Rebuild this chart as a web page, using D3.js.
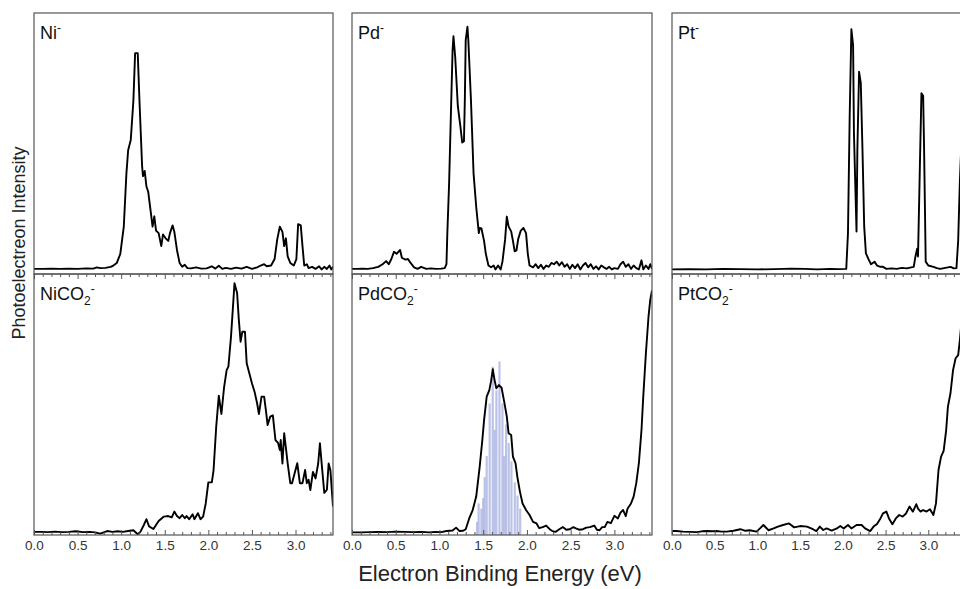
<!DOCTYPE html>
<html>
<head>
<meta charset="utf-8">
<script src="https://cdn.jsdelivr.net/npm/d3@7"></script>
<style>
    body { margin: 0; background: #fff; }
    svg { display: block; font-family: "Liberation Sans", Arial, sans-serif; }
</style>
</head>
<body>
<script>
"use strict";

// Energy axis ticks (eV)
const majorTicks = [0.0, 0.5, 1.0, 1.5, 2.0, 2.5, 3.0];
const minorTicks = [0.1, 0.2, 0.3, 0.4, 0.6, 0.7, 0.8, 0.9, 1.1, 1.2, 1.3, 1.4, 1.6, 1.7, 1.8, 1.9,
    2.1, 2.2, 2.3, 2.4, 2.6, 2.7, 2.8, 2.9, 3.1, 3.2, 3.3, 3.4];
const energyMax = 3.43;

// Spectra as [binding energy (eV), relative intensity]
const niAnion = [[0.00,0.012],[0.10,0.012],[0.20,0.013],[0.30,0.012],[0.40,0.013],[0.50,0.012],[0.60,0.014],[0.68,0.013],[0.72,0.018],[0.76,0.015],[0.82,0.016],[0.88,0.02],[0.91,0.025],[0.95,0.035],[0.99,0.07],[1.03,0.175],[1.06,0.38],[1.08,0.47],[1.11,0.51],[1.14,0.66],[1.16,0.845],[1.19,0.845],[1.21,0.66],[1.24,0.41],[1.25,0.37],[1.27,0.39],[1.29,0.33],[1.31,0.31],[1.34,0.23],[1.36,0.175],[1.38,0.215],[1.40,0.16],[1.43,0.15],[1.46,0.10],[1.48,0.145],[1.51,0.13],[1.54,0.12],[1.56,0.15],[1.59,0.18],[1.61,0.155],[1.64,0.085],[1.67,0.035],[1.70,0.02],[1.73,0.028],[1.76,0.015],[1.80,0.014],[1.86,0.018],[1.92,0.013],[1.98,0.014],[2.04,0.022],[2.08,0.013],[2.12,0.024],[2.16,0.012],[2.20,0.016],[2.26,0.012],[2.32,0.017],[2.38,0.013],[2.44,0.02],[2.50,0.012],[2.56,0.018],[2.60,0.025],[2.64,0.03],[2.67,0.022],[2.72,0.025],[2.76,0.05],[2.79,0.125],[2.82,0.175],[2.85,0.155],[2.87,0.10],[2.89,0.13],[2.91,0.06],[2.94,0.035],[2.98,0.025],[3.01,0.05],[3.03,0.185],[3.06,0.18],[3.08,0.10],[3.10,0.025],[3.13,0.03],[3.15,0.015],[3.19,0.02],[3.23,0.012],[3.27,0.022],[3.30,0.01],[3.33,0.02],[3.36,0.012],[3.39,0.025],[3.41,0.01],[3.43,0.02]];

const pdAnion = [[0.00,0.012],[0.06,0.012],[0.12,0.013],[0.18,0.012],[0.24,0.015],[0.30,0.02],[0.35,0.03],[0.39,0.042],[0.42,0.03],[0.45,0.05],[0.48,0.078],[0.51,0.07],[0.55,0.085],[0.57,0.055],[0.61,0.048],[0.64,0.05],[0.67,0.035],[0.71,0.018],[0.75,0.012],[0.79,0.02],[0.85,0.012],[0.90,0.014],[0.96,0.012],[1.02,0.013],[1.06,0.015],[1.08,0.03],[1.09,0.15],[1.11,0.34],[1.13,0.60],[1.15,0.857],[1.16,0.91],[1.18,0.83],[1.21,0.64],[1.24,0.56],[1.26,0.50],[1.28,0.505],[1.29,0.664],[1.30,0.895],[1.32,0.947],[1.33,0.895],[1.36,0.664],[1.39,0.38],[1.42,0.252],[1.45,0.15],[1.46,0.17],[1.48,0.168],[1.51,0.12],[1.53,0.07],[1.56,0.025],[1.59,0.018],[1.62,0.025],[1.64,0.01],[1.67,0.025],[1.70,0.01],[1.72,0.04],[1.75,0.124],[1.77,0.214],[1.79,0.176],[1.82,0.157],[1.84,0.12],[1.86,0.08],[1.88,0.083],[1.90,0.127],[1.93,0.16],[1.96,0.17],[1.99,0.15],[2.01,0.07],[2.03,0.025],[2.07,0.018],[2.10,0.03],[2.13,0.015],[2.16,0.028],[2.19,0.012],[2.22,0.025],[2.25,0.02],[2.28,0.035],[2.31,0.03],[2.34,0.04],[2.37,0.025],[2.40,0.038],[2.43,0.02],[2.46,0.03],[2.49,0.012],[2.52,0.028],[2.55,0.015],[2.58,0.03],[2.61,0.01],[2.64,0.025],[2.67,0.035],[2.70,0.018],[2.73,0.03],[2.76,0.012],[2.79,0.022],[2.82,0.01],[2.85,0.025],[2.88,0.018],[2.91,0.012],[2.94,0.02],[2.97,0.01],[3.00,0.015],[3.04,0.012],[3.07,0.03],[3.10,0.04],[3.13,0.02],[3.16,0.03],[3.19,0.012],[3.22,0.025],[3.25,0.015],[3.28,0.01],[3.31,0.045],[3.33,0.01],[3.36,0.025],[3.39,0.012],[3.41,0.03],[3.43,0.012]];

const ptAnion = [[0.00,0.01],[0.20,0.011],[0.40,0.01],[0.60,0.012],[0.80,0.011],[1.00,0.01],[1.20,0.011],[1.40,0.013],[1.55,0.012],[1.70,0.01],[1.85,0.012],[1.95,0.011],[2.04,0.012],[2.06,0.15],[2.08,0.60],[2.10,0.937],[2.12,0.875],[2.13,0.535],[2.16,0.156],[2.17,0.47],[2.19,0.773],[2.21,0.73],[2.23,0.47],[2.25,0.175],[2.27,0.072],[2.30,0.05],[2.33,0.03],[2.37,0.04],[2.40,0.025],[2.44,0.02],[2.47,0.02],[2.51,0.012],[2.57,0.014],[2.63,0.012],[2.69,0.016],[2.75,0.014],[2.80,0.018],[2.83,0.02],[2.85,0.06],[2.87,0.09],[2.88,0.06],[2.90,0.38],[2.92,0.69],[2.94,0.68],[2.95,0.50],[2.97,0.04],[3.00,0.025],[3.06,0.02],[3.10,0.015],[3.14,0.012],[3.20,0.016],[3.26,0.02],[3.30,0.014],[3.33,0.015],[3.35,0.12],[3.37,0.35],[3.40,0.6],[3.43,0.8]];

const niCO2 = [[0.00,0.012],[0.08,0.012],[0.16,0.011],[0.24,0.013],[0.32,0.011],[0.40,0.012],[0.48,0.014],[0.56,0.011],[0.64,0.012],[0.70,0.01],[0.76,0.005],[0.80,0.01],[0.84,0.015],[0.90,0.012],[0.96,0.014],[1.02,0.012],[1.08,0.015],[1.14,0.018],[1.19,0.003],[1.22,0.012],[1.26,0.038],[1.29,0.06],[1.32,0.033],[1.37,0.023],[1.43,0.053],[1.49,0.07],[1.54,0.072],[1.58,0.067],[1.61,0.089],[1.64,0.072],[1.67,0.064],[1.70,0.076],[1.73,0.064],[1.75,0.072],[1.78,0.06],[1.82,0.079],[1.84,0.06],[1.88,0.083],[1.91,0.06],[1.94,0.07],[1.97,0.12],[2.00,0.20],[2.04,0.20],[2.06,0.247],[2.09,0.41],[2.12,0.53],[2.15,0.46],[2.18,0.56],[2.21,0.627],[2.23,0.64],[2.26,0.754],[2.28,0.855],[2.30,0.957],[2.33,0.92],[2.35,0.817],[2.37,0.735],[2.39,0.773],[2.42,0.773],[2.44,0.653],[2.47,0.615],[2.50,0.577],[2.53,0.545],[2.56,0.50],[2.58,0.46],[2.61,0.526],[2.64,0.526],[2.66,0.475],[2.68,0.418],[2.71,0.45],[2.74,0.455],[2.77,0.361],[2.80,0.35],[2.82,0.323],[2.83,0.361],[2.85,0.272],[2.87,0.387],[2.89,0.33],[2.91,0.272],[2.94,0.197],[2.96,0.197],[2.99,0.235],[3.02,0.273],[3.05,0.197],[3.08,0.197],[3.11,0.247],[3.13,0.197],[3.15,0.21],[3.17,0.171],[3.20,0.24],[3.23,0.215],[3.26,0.272],[3.28,0.349],[3.30,0.272],[3.33,0.16],[3.36,0.172],[3.38,0.272],[3.40,0.247],[3.43,0.108]];

const pdCO2 = [[0.00,0.01],[0.10,0.01],[0.20,0.011],[0.30,0.012],[0.40,0.011],[0.50,0.013],[0.60,0.012],[0.70,0.011],[0.80,0.012],[0.88,0.01],[0.95,0.012],[1.02,0.011],[1.08,0.015],[1.15,0.017],[1.19,0.028],[1.23,0.015],[1.27,0.016],[1.30,0.022],[1.34,0.063],[1.38,0.095],[1.42,0.146],[1.46,0.26],[1.49,0.361],[1.51,0.437],[1.54,0.526],[1.57,0.551],[1.59,0.585],[1.61,0.63],[1.63,0.589],[1.65,0.558],[1.68,0.57],[1.71,0.56],[1.74,0.507],[1.77,0.45],[1.79,0.387],[1.82,0.38],[1.84,0.298],[1.87,0.272],[1.89,0.222],[1.92,0.165],[1.95,0.12],[1.99,0.095],[2.03,0.076],[2.07,0.05],[2.11,0.044],[2.14,0.026],[2.18,0.03],[2.22,0.036],[2.26,0.022],[2.29,0.015],[2.33,0.012],[2.37,0.022],[2.41,0.03],[2.45,0.02],[2.49,0.022],[2.53,0.03],[2.56,0.025],[2.60,0.02],[2.64,0.022],[2.68,0.028],[2.72,0.03],[2.77,0.036],[2.80,0.02],[2.83,0.018],[2.86,0.03],[2.89,0.03],[2.92,0.05],[2.96,0.045],[3.00,0.073],[3.04,0.063],[3.07,0.085],[3.10,0.095],[3.13,0.072],[3.15,0.1],[3.19,0.12],[3.22,0.146],[3.25,0.197],[3.28,0.273],[3.31,0.40],[3.33,0.526],[3.36,0.69],[3.39,0.83],[3.41,0.894],[3.43,0.93]];

const ptCO2 = [[0.00,0.015],[0.05,0.015],[0.13,0.013],[0.21,0.012],[0.29,0.011],[0.35,0.014],[0.41,0.015],[0.47,0.014],[0.52,0.015],[0.58,0.013],[0.64,0.013],[0.72,0.016],[0.80,0.022],[0.86,0.016],[0.91,0.018],[0.99,0.013],[1.03,0.025],[1.07,0.038],[1.13,0.018],[1.19,0.025],[1.24,0.032],[1.30,0.038],[1.37,0.044],[1.43,0.029],[1.50,0.034],[1.58,0.032],[1.65,0.022],[1.69,0.015],[1.73,0.032],[1.77,0.019],[1.81,0.025],[1.87,0.017],[1.93,0.025],[1.97,0.034],[2.01,0.025],[2.06,0.038],[2.10,0.025],[2.16,0.038],[2.22,0.038],[2.26,0.025],[2.32,0.015],[2.36,0.032],[2.40,0.042],[2.44,0.063],[2.47,0.082],[2.51,0.089],[2.54,0.063],[2.58,0.041],[2.62,0.063],[2.66,0.076],[2.70,0.07],[2.74,0.082],[2.78,0.108],[2.82,0.089],[2.86,0.117],[2.88,0.10],[2.91,0.089],[2.94,0.095],[2.98,0.089],[3.02,0.098],[3.06,0.076],[3.09,0.12],[3.12,0.247],[3.15,0.298],[3.18,0.32],[3.21,0.40],[3.23,0.488],[3.26,0.539],[3.29,0.627],[3.32,0.672],[3.35,0.684],[3.37,0.741],[3.40,0.85],[3.43,0.95]];

// Simulated stick spectrum for PdCO2-
const pdCO2StickEnergy = [1.430, 1.448, 1.479, 1.500, 1.517, 1.540, 1.574, 1.609, 1.630, 1.651, 1.686, 1.720, 1.740, 1.762, 1.792, 1.823, 1.861, 1.892, 1.923];
const pdCO2StickHeight = [0.05, 0.12, 0.10, 0.14, 0.22, 0.30, 0.50, 0.64, 0.40, 0.55, 0.66, 0.50, 0.30, 0.42, 0.35, 0.28, 0.20, 0.15, 0.10];

(function(){
    const measurements = {
        width: 960,
        height: 589,
        rowTop: 13,
        rowMid: 274,
        rowBottom: 535
    }

    // Pixel spans for the three columns
    const columns = [
        { left: 34, right: 333 },
        { left: 352, right: 652 },
        { left: 672, right: 965 }
    ]

    // One entry per panel
    const panels = [
        { col: 0, row: 0, data: niAnion, name: "Ni", co2: false },
        { col: 1, row: 0, data: pdAnion, name: "Pd", co2: false },
        { col: 2, row: 0, data: ptAnion, name: "Pt", co2: false },
        { col: 0, row: 1, data: niCO2, name: "Ni", co2: true },
        { col: 1, row: 1, data: pdCO2, name: "Pd", co2: true, sticks: true },
        { col: 2, row: 1, data: ptCO2, name: "Pt", co2: true }
    ]

    const svg = d3.select("body").append("svg")
        .attr("width", measurements.width)
        .attr("height", measurements.height);

    svg.append("rect")
        .attr("width", measurements.width)
        .attr("height", measurements.height)
        .attr("fill", "#fff");

    panels.forEach((p, i) => drawPanel(p, i));

    // Axis titles
    svg.append("text")
        .attr("transform", "translate(25,243) rotate(-90)")
        .attr("text-anchor", "middle")
        .attr("font-size", 18)
        .attr("fill", "#222")
        .text("Photoelectreon Intensity");

    svg.append("text")
        .attr("x", 500)
        .attr("y", 581)
        .attr("text-anchor", "middle")
        .attr("font-size", 22)
        .attr("fill", "#222")
        .text("Electron Binding Energy (eV)");

    // Draws one spectrum panel with border, ticks, label
    function drawPanel(p, i) {
        const c = columns[p.col];
        const top = p.row === 0 ? measurements.rowTop : measurements.rowMid;
        const bottom = p.row === 0 ? measurements.rowMid : measurements.rowBottom;

        const scaleX = d3.scaleLinear()
            .domain([0, energyMax])
            .range([c.left, c.right]);
        const scaleY = d3.scaleLinear()
            .domain([0, 1])
            .range(p.row === 0 ? [272, 13] : [535, 272]);

        const clipId = "clip" + i;
        svg.append("clipPath")
            .attr("id", clipId)
            .append("rect")
            .attr("x", c.left)
            .attr("y", top)
            .attr("width", c.right - c.left)
            .attr("height", bottom - top);

        const g = svg.append("g");
        const plot = g.append("g").attr("clip-path", "url(#" + clipId + ")");

        // Simulated sticks behind the experimental trace
        if (p.sticks) {
            plot.selectAll(".stick")
                .data(pdCO2StickEnergy)
                .enter()
                .append("rect")
                .attr("class", "stick")
                .attr("x", d => scaleX(d) - 1.1)
                .attr("width", 2.2)
                .attr("y", (d, k) => scaleY(pdCO2StickHeight[k]))
                .attr("height", (d, k) => scaleY(0) - scaleY(pdCO2StickHeight[k]) + 3)
                .attr("fill", "#aab3e2")
                .attr("opacity", 0.8);
        }

        const line = d3.line()
            .x(d => scaleX(d[0]))
            .y(d => scaleY(d[1]));

        plot.append("path")
            .datum(p.data)
            .attr("d", line)
            .attr("fill", "none")
            .attr("stroke", "#000")
            .attr("stroke-width", 1.9)
            .attr("stroke-linejoin", "round");

        // Border
        g.append("rect")
            .attr("x", c.left)
            .attr("y", top)
            .attr("width", c.right - c.left)
            .attr("height", bottom - top)
            .attr("fill", "none")
            .attr("stroke", "#555")
            .attr("stroke-width", 1.2);

        // Ticks: top row points down across the shared edge, bottom row points up with labels
        const inward = p.row === 0 ? 1 : -1;
        const majorAxis = d3.axisBottom(scaleX)
            .tickValues(majorTicks)
            .tickSizeInner(5 * inward)
            .tickSizeOuter(0)
            .tickPadding(5)
            .tickFormat(p.row === 0 ? "" : d3.format(".1f"));
        const minorAxis = d3.axisBottom(scaleX)
            .tickValues(minorTicks)
            .tickSizeInner(3 * inward)
            .tickSizeOuter(0)
            .tickFormat("");

        [majorAxis, minorAxis].forEach(ax => {
            const a = g.append("g")
                .attr("transform", "translate(0," + bottom + ")")
                .call(ax);
            a.select(".domain").remove();
            a.selectAll("line").attr("stroke", "#555");
            a.selectAll("text")
                .attr("font-size", 13.5)
                .attr("font-family", "\"Liberation Sans\", Arial, sans-serif")
                .attr("fill", "#333");
        });

        // Panel label, e.g. Ni- or NiCO2-
        const label = g.append("text")
            .attr("x", c.left + 6)
            .attr("y", top + 26)
            .attr("font-size", 18)
            .attr("fill", "#111");
        if (p.co2) {
            label.append("tspan").text(p.name + "CO");
            label.append("tspan").attr("font-size", 12).attr("dy", 5).text("2");
            label.append("tspan").attr("font-size", 12).attr("dy", -12).text("-");
        } else {
            label.append("tspan").text(p.name);
            label.append("tspan").attr("font-size", 12).attr("dy", -7).text("-");
        }
    }
})()
</script>
</body>
</html>
